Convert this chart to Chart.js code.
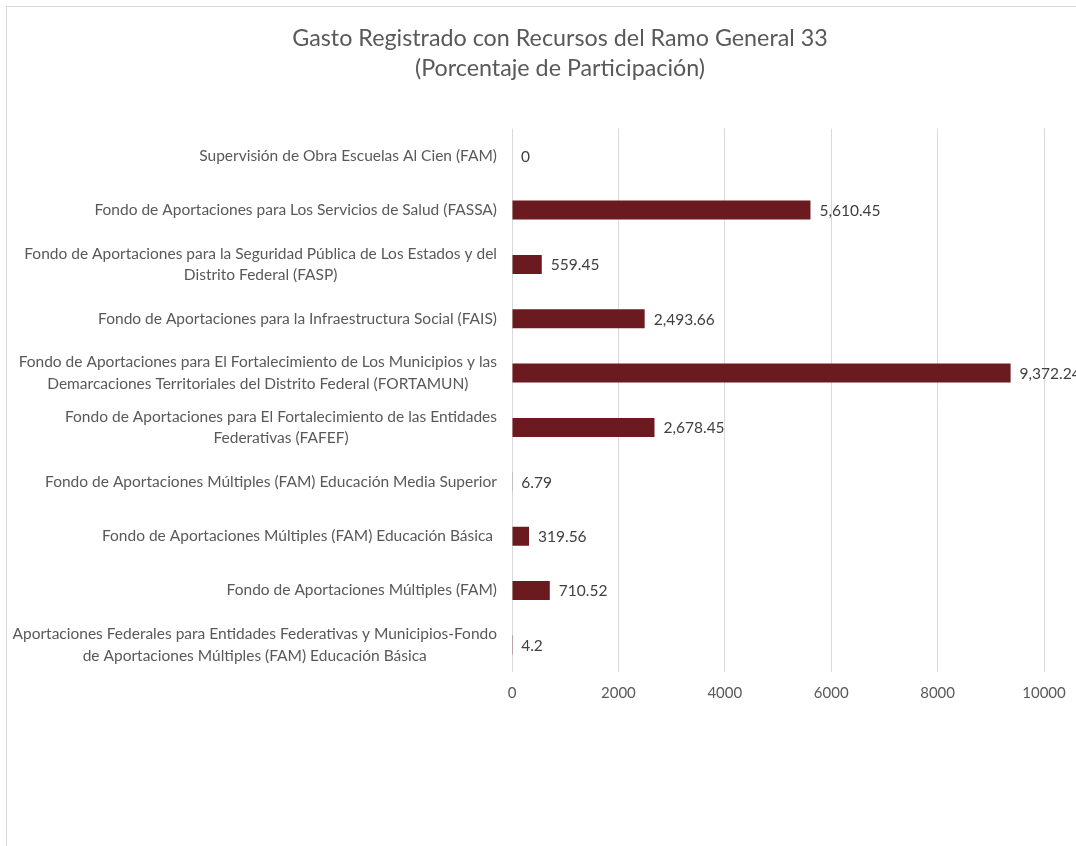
<!DOCTYPE html>
<html>
<head>
<meta charset="utf-8">
<script src="https://cdn.jsdelivr.net/npm/chart.js@4"></script>
<style>
  html, body { margin: 0; padding: 0; background: #fff; overflow: hidden; }
  #frame {
    position: absolute; left: 6px; top: 6px;
    width: 1106px; height: 900px;
    border: 1px solid #d9d9d9;
  }
</style>
</head>
<body>
<div id="frame"><canvas id="chart"></canvas></div>
<script>
// Categories, top to bottom (multi-line labels kept as arrays)
const categories = [
    'Supervisión de Obra Escuelas Al Cien (FAM)',
    'Fondo de Aportaciones para Los Servicios de Salud (FASSA)',
    ['Fondo de Aportaciones para la Seguridad Pública de Los Estados y del', 'Distrito Federal (FASP)'],
    'Fondo de Aportaciones para la Infraestructura Social (FAIS)',
    ['Fondo de Aportaciones para El Fortalecimiento de Los Municipios y las', 'Demarcaciones Territoriales del Distrito Federal (FORTAMUN)'],
    ['Fondo de Aportaciones para El Fortalecimiento de las Entidades', 'Federativas (FAFEF)'],
    'Fondo de Aportaciones Múltiples (FAM) Educación Media Superior',
    'Fondo de Aportaciones Múltiples (FAM) Educación Básica ',
    'Fondo de Aportaciones Múltiples (FAM)',
    ['Aportaciones Federales para Entidades Federativas y Municipios-Fondo', 'de Aportaciones Múltiples (FAM) Educación Básica']
];
const gasto = [0, 5610.45, 559.45, 2493.66, 9372.24, 2678.45, 6.79, 319.56, 710.52, 4.2];
const titleLines = ['Gasto Registrado con Recursos del Ramo General 33', '(Porcentaje de Participación)'];
const xMin = 0;
const xMax = 10000;
const xStep = 2000;

const FONT = 'Lato, "Open Sans", sans-serif';
const TEXT = '#595959';

// Category labels: right-aligned block, lines centred inside the block
const categoryLabels = {
    id: 'categoryLabels',
    afterDraw(chart) {
        const ctx = chart.ctx;
        const yScale = chart.scales.y;
        const right = yScale.right - 15;
        const lineH = 21.5;
        ctx.save();
        ctx.font = '15.5px ' + FONT;
        ctx.fillStyle = TEXT;
        ctx.textAlign = 'center';
        ctx.textBaseline = 'middle';
        categories.forEach((label, i) => {
            const lines = Array.isArray(label) ? label : [label];
            const widest = Math.max(...lines.map(l => ctx.measureText(l).width));
            const cx = right - widest / 2;
            const yc = yScale.getPixelForTick(i);
            lines.forEach((line, j) => {
                ctx.fillText(line, cx, yc + (j - (lines.length - 1) / 2) * lineH);
            });
        });
        ctx.restore();
    }
};

// Value labels at the end of each bar
const valueLabels = {
    id: 'valueLabels',
    afterDatasetsDraw(chart) {
        const ctx = chart.ctx;
        const meta = chart.getDatasetMeta(0);
        ctx.save();
        ctx.font = '15.5px ' + FONT;
        ctx.fillStyle = '#404040';
        ctx.textAlign = 'left';
        ctx.textBaseline = 'middle';
        meta.data.forEach((bar, i) => {
            const txt = gasto[i].toLocaleString('en-US', { maximumFractionDigits: 2 });
            ctx.fillText(txt, bar.x + 9, bar.y + 1);
        });
        ctx.restore();
    }
};

new Chart(document.getElementById('chart'), {
    type: 'bar',
    data: {
        labels: categories,
        datasets: [{
            data: gasto,
            backgroundColor: '#6b1a20',
            barThickness: 19,
            inflateAmount: 0
        }]
    },
    options: {
        indexAxis: 'y',
        responsive: true,
        maintainAspectRatio: false,
        animation: false,
        layout: { padding: 0 },
        plugins: {
            legend: { display: false },
            tooltip: { enabled: false },
            title: {
                display: true,
                text: titleLines,
                color: TEXT,
                font: { family: FONT, size: 23.3, weight: 'normal', lineHeight: 1.3 },
                padding: { top: 16, bottom: 45 }
            }
        },
        scales: {
            x: {
                min: xMin,
                max: xMax,
                ticks: {
                    stepSize: xStep,
                    color: TEXT,
                    font: { family: FONT, size: 15 },
                    padding: 12,
                    callback: v => String(v)
                },
                grid: { color: '#d9d9d9', drawTicks: false },
                border: { display: false },
                afterFit(scale) { scale.height = 235; }
            },
            y: {
                ticks: { display: false },
                grid: { display: false, drawTicks: false },
                border: { display: false },
                afterFit(scale) { scale.width = 505; }
            },
            // empty right-hand axis, only reserves the margin on the right
            yRight: {
                type: 'category',
                position: 'right',
                ticks: { display: false },
                grid: { display: false, drawTicks: false },
                border: { display: false },
                afterFit(scale) { scale.width = 69; }
            }
        }
    },
    plugins: [categoryLabels, valueLabels]
});
</script>
</body>
</html>
